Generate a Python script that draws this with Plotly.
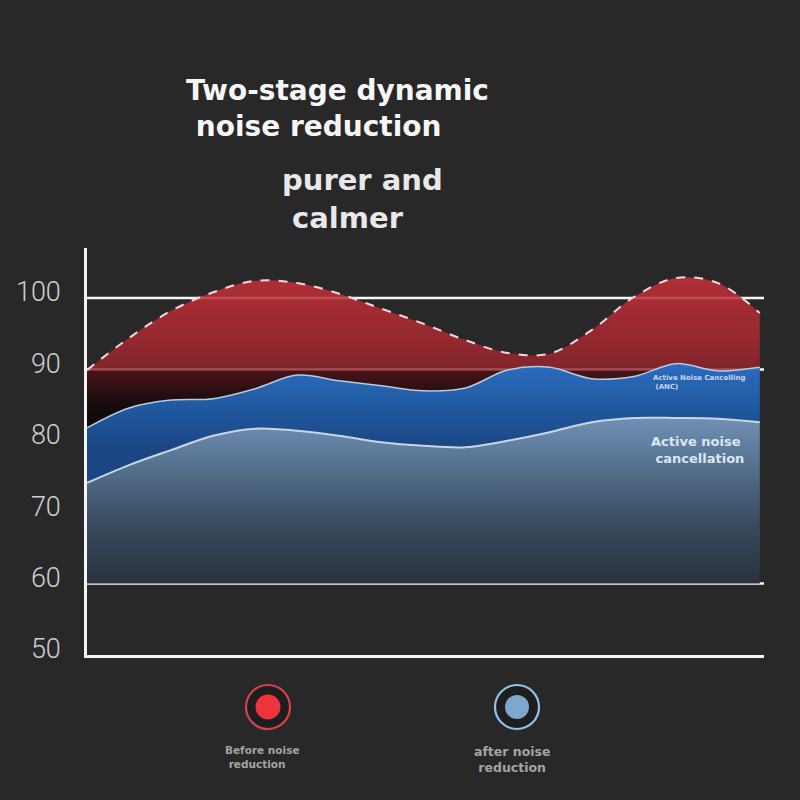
import plotly.graph_objects as go

# ---- data ----
x_pos = list(range(17))
before_noise = [89.9, 94.4, 98.2, 100.8, 102.4, 102.1, 100.6, 98.5, 96.4, 94.1, 92.3, 92.2, 95.5, 100.1, 102.8, 102.1, 97.9]
anc_noise = [81.8, 84.6, 85.7, 85.9, 87.3, 89.2, 88.4, 87.7, 87.0, 87.4, 89.9, 90.3, 88.7, 89.0, 90.8, 89.8, 90.3]
after_noise = [74.1, 76.6, 78.7, 80.7, 81.7, 81.4, 80.7, 79.8, 79.3, 79.1, 80.0, 81.2, 82.6, 83.2, 83.2, 83.1, 82.6]
floor_value = 60
y_ticks = [50, 60, 70, 80, 90, 100]
grid_values = [60, 90, 100]

# plot area in pixels
L, R, T, B = 87, 764, 248, 655
W, H = R - L, B - T

def xp(px):
    return (px - L) / W

def yp(py):
    return (B - py) / H

fig = go.Figure()

fig.add_trace(go.Scatter(x=x_pos, y=[floor_value] * len(x_pos), mode="lines",
                         line=dict(width=0, color="rgba(0,0,0,0)"), hoverinfo="skip", showlegend=False))
fig.add_trace(go.Scatter(
    x=x_pos, y=after_noise, mode="lines", line=dict(color="#c9d5e2", width=2, shape="spline"),
    fill="tonexty",
    fillgradient=dict(type="vertical", start=60, stop=84,
                      colorscale=[[0, "#28323e"], [0.35, "#394b60"], [0.75, "#5a7898"], [1, "#7494b8"]]),
    showlegend=False))
fig.add_trace(go.Scatter(
    x=x_pos, y=anc_noise, mode="lines", line=dict(color="#b8cce0", width=1.5, shape="spline"),
    fill="tonexty",
    fillgradient=dict(type="vertical", start=79, stop=91,
                      colorscale=[[0, "#1a4684"], [0.5, "#215aa2"], [1, "#2c6dc0"]]),
    showlegend=False))
fig.add_trace(go.Scatter(
    x=x_pos, y=before_noise, mode="lines",
    line=dict(color="#f2d6d8", width=2, dash="dash", shape="spline"),
    fill="tonexty",
    fillgradient=dict(type="vertical", start=81, stop=103,
                      colorscale=[[0, "rgba(8,6,6,0.92)"], [0.2, "rgba(22,8,9,0.88)"],
                                  [0.4, "rgba(80,14,20,0.8)"], [0.408, "rgba(150,36,44,0.8)"],
                                  [0.6, "rgba(170,40,48,0.84)"], [1, "rgba(198,48,58,0.86)"]]),
    showlegend=False))

shapes = []
for g in grid_values:
    shapes.append(dict(type="line", xref="paper", yref="y", x0=0, x1=1, y0=g, y1=g,
                       line=dict(color="#f6f6f6", width=2.5), layer="below"))

def ring(cx, cy, r_out, r_in, ring_col, fill_col):
    out = []
    out.append(dict(type="circle", xref="paper", yref="paper", xsizemode="pixel", ysizemode="pixel",
                    xanchor=xp(cx), yanchor=yp(cy), x0=-r_out, x1=r_out, y0=-r_out, y1=r_out,
                    line=dict(color=ring_col, width=2.2), fillcolor="#1e1e1e"))
    out.append(dict(type="circle", xref="paper", yref="paper", xsizemode="pixel", ysizemode="pixel",
                    xanchor=xp(cx), yanchor=yp(cy), x0=-r_in, x1=r_in, y0=-r_in, y1=r_in,
                    line=dict(width=0), fillcolor=fill_col))
    return out

shapes += ring(268, 707, 22, 12.5, "#d8404a", "#f0343c")
shapes += ring(517, 707, 22, 12, "#92c2ea", "#7fa6cc")

annots = []
def txt(line1, line2, px, py, size, color, indent=1, family="DejaVu Sans"):
    s = "<b>" + line1 + "<br>" + "&nbsp;" * indent + line2 + "</b>"
    annots.append(dict(text=s, x=xp(px), y=yp(py), xref="paper", yref="paper",
                       xanchor="left", yanchor="middle", align="left", showarrow=False,
                       font=dict(size=size, color=color, family=family)))

txt("Two-stage dynamic", "noise reduction", 184, 108, 28, "#f6f6f6")
txt("purer and", "calmer", 280, 199, 29, "#e8e8e8")
txt("Active Noise Cancelling", "(ANC)", 651, 382, 7, "#c8d8f0")
txt("Active noise", "cancellation", 649, 450, 13, "#dde6f0")
txt("Before noise", "reduction", 223, 757, 10.5, "#a4a4a4")
txt("after noise", "reduction", 472, 759, 12.5, "#a4a4a4")

fig.update_layout(
    width=800, height=800,
    margin=dict(l=L, r=800 - R, t=T, b=800 - B, pad=0),
    paper_bgcolor="#282828", plot_bgcolor="#282828",
    shapes=shapes, annotations=annots,
    xaxis=dict(range=[0, 16.1], showgrid=False, zeroline=False, showticklabels=False,
               showline=True, linecolor="#f4f4f4", linewidth=2.5, fixedrange=True),
    yaxis=dict(range=[50, 107], tickvals=y_ticks, showgrid=False, zeroline=False,
               showline=True, linecolor="#f4f4f4", linewidth=2.5, ticks="",
               ticklabelstandoff=18, ticklabelshift=-6,
               tickfont=dict(family="Roboto", size=27, color="#cfcfcf", weight=300)),
)

fig.write_html("out.html")
